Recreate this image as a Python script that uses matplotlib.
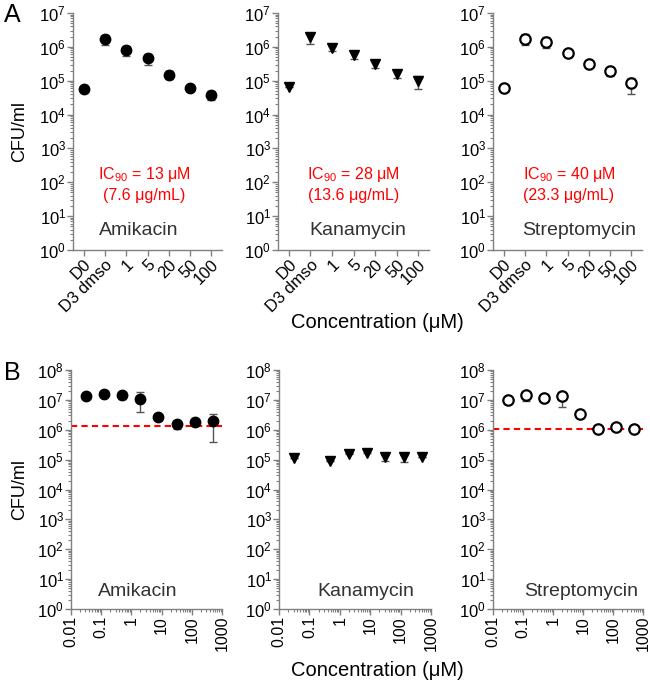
import matplotlib
matplotlib.use("Agg")
import matplotlib.pyplot as plt
import numpy as np
from matplotlib.ticker import LogLocator, LogFormatterSciNotation, NullFormatter

plt.rcParams['font.family'] = ['Liberation Sans', 'DejaVu Sans']
plt.rcParams['mathtext.fontset'] = 'custom'
plt.rcParams['mathtext.rm'] = 'Liberation Sans'
plt.rcParams['mathtext.it'] = 'Liberation Sans:italic'

# ---- panel A data ----
cats_a = ["D0", "D3 dmso", "1", "5", "20", "50", "100"]
drugs = ["Amikacin", "Kanamycin", "Streptomycin"]
markers = ["o", "v", "o"]
filled = [True, True, False]

ami_a = [5.8e4, 1.7e6, 7.9e5, 4.6e5, 1.5e5, 6.0e4, 3.8e4]
ami_a_lo = [5.8e4, 1.15e6, 5.2e5, 3.0e5, 1.1e5, 6.0e4, 2.7e4]
ami_a_hi = [5.8e4, 2.3e6, 1.05e6, 6.2e5, 1.9e5, 6.0e4, 5.0e4]

kan_a = [6.6e4, 1.9e6, 9.1e5, 5.9e5, 3.2e5, 1.55e5, 1.0e5]
kan_a_lo = [6.6e4, 1.25e6, 7.4e5, 4.5e5, 2.4e5, 1.17e5, 5.8e4]
kan_a_hi = [6.6e4, 2.5e6, 1.05e6, 7.0e5, 4.0e5, 1.9e5, 1.4e5]

str_a = [5.9e4, 1.7e6, 1.4e6, 6.8e5, 3.1e5, 1.95e5, 8.3e4]
str_a_lo = [5.9e4, 1.17e6, 9.5e5, 6.0e5, 2.7e5, 1.38e5, 4.0e4]
str_a_hi = [5.9e4, 2.4e6, 1.9e6, 7.5e5, 3.5e5, 2.5e5, 1.2e5]

ic90 = ["IC$_{90}$ = 13 μM\n(7.6 μg/mL)",
        "IC$_{90}$ = 28 μM\n(13.6 μg/mL)",
        "IC$_{90}$ = 40 μM\n(23.3 μg/mL)"]

# ---- panel B data ----
conc_b = [0.0305, 0.122, 0.488, 1.95, 7.81, 31.25, 125, 500]
conc_b_kan = [0.0305, 0.488, 1.95, 7.81, 31.25, 125, 500]

ami_b = [1.3e7, 1.6e7, 1.5e7, 1.1e7, 2.6e6, 1.5e6, 1.8e6, 1.9e6]
ami_b_lo = [1.3e7, 1.6e7, 1.05e7, 4.0e6, 2.6e6, 1.05e6, 1.8e6, 4.0e5]
ami_b_hi = [1.3e7, 1.6e7, 1.8e7, 1.8e7, 2.6e6, 1.9e6, 1.8e6, 3.3e6]

kan_b = [1.15e5, 9.0e4, 1.5e5, 1.7e5, 1.2e5, 1.2e5, 1.2e5]
kan_b_lo = [1.15e5, 9.0e4, 1.5e5, 1.7e5, 8.7e4, 8.4e4, 1.2e5]
kan_b_hi = [1.15e5, 9.0e4, 1.7e5, 1.9e5, 1.4e5, 1.4e5, 1.2e5]

str_b = [9.7e6, 1.5e7, 1.15e7, 1.3e7, 3.4e6, 1.05e6, 1.25e6, 1.05e6]
str_b_lo = [9.7e6, 9.5e6, 1.15e7, 6.0e6, 3.4e6, 1.05e6, 1.25e6, 1.05e6]
str_b_hi = [9.7e6, 1.9e7, 1.15e7, 1.9e7, 3.4e6, 1.05e6, 1.25e6, 1.05e6]

thresh_b = [1.35e6, None, 1.07e6]
xticks_b = [0.01, 0.1, 1, 10, 100, 1000]
xlabels_b = ["0.01", "0.1", "1", "10", "100", "1000"]

W, H = 650, 686
fig = plt.figure(figsize=(6.5, 6.86), dpi=100)


def add_ax(x0, y0, x1, y1):
    return fig.add_axes([x0 / W, (H - y1) / H, (x1 - x0) / W, (y1 - y0) / H])


def style(ax, top):
    ax.set_yscale("log")
    ax.set_ylim(1, 10 ** top)
    ax.yaxis.set_major_locator(LogLocator(base=10, numticks=20))
    ax.yaxis.set_major_formatter(LogFormatterSciNotation())
    ax.yaxis.set_minor_locator(LogLocator(base=10, subs=np.arange(2, 10), numticks=20))
    ax.yaxis.set_minor_formatter(NullFormatter())
    for s in ["top", "right"]:
        ax.spines[s].set_visible(False)
    for s in ["left", "bottom"]:
        ax.spines[s].set_color("#808080")
        ax.spines[s].set_linewidth(1.0)
    ax.tick_params(which="major", length=4, width=1, color="#808080", pad=1)
    ax.tick_params(axis="y", which="major", labelsize=12)
    ax.tick_params(which="minor", length=2, width=0.8, color="#808080")
    ax.patch.set_alpha(0)


def draw(ax, x, y, lo, hi, mk, fill):
    y = np.array(y)
    yerr = [y - np.array(lo), np.array(hi) - y]
    ax.errorbar(x, y, yerr=yerr, fmt="none", ecolor="#555555", elinewidth=1,
                capsize=3, capthick=1, zorder=2)
    if fill:
        ax.plot(x, y, mk, color="black", ms=7.5 if mk == "o" else 7, zorder=3, linestyle="none")
    else:
        ax.plot(x, y, mk, mfc="white", mec="black", mew=1.6, ms=7.5, zorder=3, linestyle="none")


# ---- panel A ----
a_boxes = [(73, 13, 222, 250), (278, 13, 429, 250), (493, 13, 642, 250)]
a_data = [(ami_a, ami_a_lo, ami_a_hi), (kan_a, kan_a_lo, kan_a_hi), (str_a, str_a_lo, str_a_hi)]
ic_x = [0.48, 0.50, 0.51]
name_x = [0.44, 0.53, 0.58]
for i, box in enumerate(a_boxes):
    ax = add_ax(*box)
    style(ax, 7)
    xs = np.arange(len(cats_a))
    m, lo, hi = a_data[i]
    draw(ax, xs, m, lo, hi, markers[i], filled[i])
    ax.set_xlim(-0.5, 6.5)
    ax.set_xticks(xs)
    ax.set_xticklabels(cats_a, rotation=45, ha="right", rotation_mode="anchor", fontsize=12)
    ax.text(ic_x[i], 10 ** 1.94, ic90[i], transform=ax.get_yaxis_transform(),
            ha="center", va="center", color="red", fontsize=11.5, linespacing=1.35)
    ax.text(name_x[i], 10 ** 0.59, drugs[i], transform=ax.get_yaxis_transform(),
            ha="center", va="center", color="#333333", fontsize=14)

# ---- panel B ----
b_boxes = [(71, 370, 222, 609), (279, 370, 431, 609), (493, 370, 643, 609)]
b_data = [(conc_b, ami_b, ami_b_lo, ami_b_hi),
          (conc_b_kan, kan_b, kan_b_lo, kan_b_hi),
          (conc_b, str_b, str_b_lo, str_b_hi)]
name_bx = [0.44, 0.57, 0.59]
for i, box in enumerate(b_boxes):
    ax = add_ax(*box)
    style(ax, 8)
    ax.set_xscale("log")
    ax.set_xlim(0.01, 1000)
    x, m, lo, hi = b_data[i]
    draw(ax, x, m, lo, hi, markers[i], filled[i])
    if thresh_b[i] is not None:
        ax.axhline(thresh_b[i], color="red", linestyle=(0, (3, 2)), linewidth=1.5, zorder=1)
    ax.set_xticks(xticks_b)
    ax.set_xticklabels(xlabels_b, rotation=90, fontsize=11.5)
    ax.xaxis.set_minor_locator(LogLocator(base=10, subs=np.arange(2, 10), numticks=20))
    ax.xaxis.set_minor_formatter(NullFormatter())
    ax.text(name_bx[i], 10 ** 0.58, drugs[i], transform=ax.get_yaxis_transform(),
            ha="center", va="center", color="#333333", fontsize=14)

fig.text(20 / W, 1 - 131 / H, "CFU/ml", rotation=90, ha="center", va="center", fontsize=13)
fig.text(20 / W, 1 - 490 / H, "CFU/ml", rotation=90, ha="center", va="center", fontsize=13)
fig.text(377 / W, 1 - 322 / H, "Concentration (μM)", ha="center", va="center", fontsize=14.5)
fig.text(377 / W, 1 - 671 / H, "Concentration (μM)", ha="center", va="center", fontsize=14.5)
fig.text(12 / W, 1 - 15 / H, "A", ha="center", va="center", fontsize=18)
fig.text(12 / W, 1 - 373 / H, "B", ha="center", va="center", fontsize=18)

fig.savefig("out.png", dpi=100)
